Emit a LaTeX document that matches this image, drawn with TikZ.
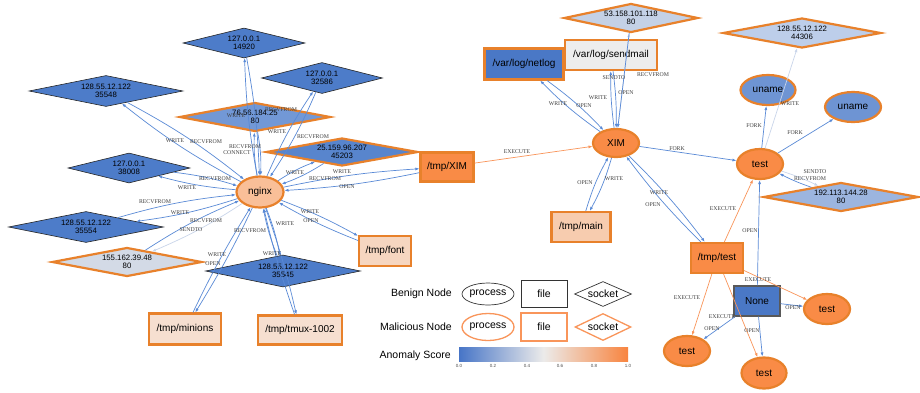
\documentclass[tikz,border=0pt]{standalone}
\usepackage{fontspec}
\setmainfont{Liberation Sans}
\newfontfamily\edgefont{Liberation Serif}
\usetikzlibrary{shapes.geometric,arrows.meta}
\definecolor{malo}{HTML}{E8812B}
\definecolor{eblue}{HTML}{5A8AD6}
\definecolor{elight}{HTML}{C9D5EA}
\definecolor{eorange}{HTML}{F9955A}
\definecolor{cdark}{HTML}{4D7CC9}
\definecolor{corange}{HTML}{F98B46}
\definecolor{cnginx}{HTML}{F9BF98}
\definecolor{cmid}{HTML}{7298D6}
\definecolor{cfortyfive}{HTML}{5885CD}
\definecolor{cpale}{HTML}{D3DAE6}
\definecolor{cpeach}{HTML}{F6DFD0}
\definecolor{cfont}{HTML}{F6D6C0}
\definecolor{cnet}{HTML}{4A78C6}
\definecolor{csend}{HTML}{EDEDED}
\definecolor{cfiftythree}{HTML}{C4D1E6}
\definecolor{cmain}{HTML}{F7CCAF}
\definecolor{cfortyfour}{HTML}{BDCEEA}
\definecolor{cuname}{HTML}{6E94D3}
\definecolor{cnineteen}{HTML}{9CB5DF}
\definecolor{cbzero}{HTML}{4775C7}
\definecolor{cbmid}{HTML}{ECEBEA}
\definecolor{cbone}{HTML}{F8843F}
\newcommand\nodefont{\fontsize{10}{11}\selectfont}
\newcommand\ipfont{\fontsize{7.8}{8.6}\selectfont}
\newcommand\legfont{\fontsize{10.5}{12}\selectfont}
\begin{document}
\begin{tikzpicture}[x=1pt,y=-1pt,
  mal/.style={draw=malo, line width=2.2pt},
  ben/.style={draw=black!85, line width=0.6pt},
  proc/.style={ellipse, inner sep=0pt, font=\nodefont},
  filebox/.style={rectangle, inner sep=0pt, font=\nodefont},
  sock/.style={diamond, inner sep=0pt},
  iptext/.style={font=\ipfont, align=center, inner sep=0pt},
  ed/.style={draw=eblue, line width=0.7pt, -{Latex[length=4pt,width=3pt]}},
  edl/.style={ed, draw=elight},
  edo/.style={ed, draw=eorange},
  lb/.style={font=\edgefont\fontsize{5.8}{6}\selectfont, text=black!75, inner sep=0pt},
  legtext/.style={font=\legfont, anchor=east, inner sep=0pt},
  lgmal/.style={draw=eorange, line width=1.3pt},
  lgben/.style={draw=black!80, line width=0.7pt},
  tick/.style={font=\fontsize{4.5}{5}\selectfont, text=black!70, inner sep=0pt}
]
\useasboundingbox[fill=white] (0,0) rectangle (920,392);

% ---------------- nodes: left cluster ----------------
\node[sock, ben, fill=cdark, minimum width=122, minimum height=30, label={[iptext]center:127.0.0.1\\14920}] (d14920) at (244,43) {};
\node[sock, ben, fill=cdark, minimum width=154, minimum height=31, label={[iptext]center:128.55.12.122\\35548}] (d35548) at (106,91) {};
\node[sock, ben, fill=cdark, minimum width=121, minimum height=31, label={[iptext]center:127.0.0.1\\32586}] (d32586) at (322,78) {};
\node[sock, mal, fill=cmid, minimum width=151, minimum height=29, label={[iptext]center:76.56.184.25\\80}] (d7656) at (255,117) {};
\node[sock, mal, fill=cfortyfive, minimum width=152, minimum height=28, label={[iptext]center:25.159.96.207\\45203}] (d45203) at (342,152) {};
\node[filebox, mal, fill=corange, minimum width=53, minimum height=29] (fXIM) at (447,167) {/tmp/XIM};
\node[sock, ben, fill=cdark, minimum width=122, minimum height=30, label={[iptext]center:127.0.0.1\\38008}] (d38008) at (129,168) {};
\node[sock, ben, fill=cdark, minimum width=155, minimum height=31, label={[iptext]center:128.55.12.122\\35554}] (d35554) at (86,227) {};
\node[sock, mal, fill=cpale, minimum width=150, minimum height=29, label={[iptext]center:155.162.39.48\\80}] (d155) at (127,262) {};
\node[filebox, mal, fill=cpeach, minimum width=72, minimum height=31] (fmin) at (185,329) {/tmp/minions};
\node[sock, ben, fill=cdark, minimum width=155, minimum height=32, label={[iptext]center:128.55.12.122\\35545}] (d35545) at (283,271) {};
\node[filebox, mal, fill=cpeach, minimum width=84, minimum height=29] (ftmux) at (300,330) {/tmp/tmux-1002};
\node[filebox, mal, fill=cfont, minimum width=52, minimum height=30] (ffont) at (385,251) {/tmp/font};
\node[proc, mal, fill=cnginx, minimum width=47, minimum height=31] (nginx) at (260,192) {nginx};

% ---------------- nodes: middle ----------------
\node[proc, mal, fill=corange, minimum width=46, minimum height=28] (XIM) at (616,143) {XIM};
\node[filebox, mal, fill=csend, minimum width=92, minimum height=30] (fsend) at (611,55) {/var/log/sendmail};
\node[filebox, mal, fill=cnet, minimum width=79, minimum height=31] (fnetlog) at (524,64) {/var/log/netlog};
\node[sock, mal, fill=cfiftythree, minimum width=134, minimum height=29, label={[iptext]center:53.158.101.118\\80}] (d53) at (631,18) {};
\node[filebox, mal, fill=cmain, minimum width=59, minimum height=30] (fmain) at (581,227) {/tmp/main};

% ---------------- nodes: right ----------------
\node[sock, mal, fill=cfortyfour, minimum width=158, minimum height=30, label={[iptext]center:128.55.12.122\\44306}] (d44306) at (802,33) {};
\node[proc, mal, fill=cuname, minimum width=55, minimum height=30] (uname1) at (768,90) {uname};
\node[proc, mal, fill=cuname, minimum width=56, minimum height=30] (uname2) at (853,107) {uname};
\node[proc, mal, fill=corange, minimum width=46, minimum height=30] (test) at (760,164) {test};
\node[sock, mal, fill=cnineteen, minimum width=155, minimum height=29, label={[iptext]center:192.113.144.28\\80}] (d192) at (841,197) {};
\node[filebox, mal, fill=corange, minimum width=52, minimum height=30] (ftest) at (717,258) {/tmp/test};
\node[filebox, draw=black!65, line width=1.2pt, fill=cnet, minimum width=46, minimum height=30] (none) at (757,301) {None};
\node[proc, mal, fill=corange, minimum width=46, minimum height=30] (testR) at (827,309) {test};
\node[proc, mal, fill=corange, minimum width=46, minimum height=30] (testLL) at (687,351) {test};
\node[proc, mal, fill=corange, minimum width=45, minimum height=31] (testB) at (764,373) {test};

% ---------------- edges: nginx ----------------
\draw[ed] (nginx) to[bend left=5] (d35548);
\draw[ed] (d35548) to[bend left=5] (nginx);
\draw[ed] (nginx) to[bend left=4] (d14920);
\draw[ed] (d14920) to[bend left=4] (nginx);
\draw[ed] (nginx) to[bend left=6] (d7656);
\draw[ed] (d7656) to[bend left=6] (nginx);
\draw[ed] (nginx) to[bend left=5] (d32586);
\draw[ed] (d32586) to[bend left=5] (nginx);
\draw[ed] (nginx) to[bend left=6] (d45203);
\draw[ed] (d45203) to[bend left=6] (nginx);
\draw[ed] (nginx) to[bend left=4] (fXIM);
\draw[ed] (fXIM) to[bend left=4] (nginx);
\draw[ed] (d38008) to[bend left=5] (nginx);
\draw[ed] (nginx) to[bend left=5] (d38008);
\draw[ed] (d35554) to[bend left=5] (nginx);
\draw[ed] (nginx) to[bend left=5] (d35554);
\draw[ed] (d155) to[bend left=5] (nginx);
\draw[edl] (nginx) to[bend left=5] (d155);
\draw[ed] (nginx) to[bend left=3] (fmin);
\draw[ed] (fmin) to[bend left=3] (nginx);
\draw[ed] (d35545) to[bend left=5] (nginx);
\draw[ed] (nginx) to[bend left=5] (d35545);
\draw[ed] (nginx) to[bend left=3] (ftmux);
\draw[ed] (ftmux) to[bend left=3] (nginx);
\draw[ed] (nginx) to[bend left=4] (ffont);
\draw[ed] (ffont) to[bend left=4] (nginx);

% ---------------- edges: XIM ----------------
\draw[edo] (fXIM) -- (XIM);
\draw[ed] (XIM) to[bend left=5] (fnetlog);
\draw[ed] (fnetlog) to[bend left=5] (XIM);
\draw[ed] (XIM) to[bend left=4] (fsend);
\draw[ed] (fsend) to[bend left=4] (XIM);
\draw[edl] (XIM) -- (d53);
\draw[ed] (d53) -- (XIM);
\draw[ed] (fmain) to[bend left=6] (XIM);
\draw[ed] (XIM) to[bend left=6] (fmain);
\draw[ed] (XIM) to[bend left=4] (ftest);
\draw[ed] (ftest) to[bend left=4] (XIM);
\draw[ed] (XIM) -- (test);

% ---------------- edges: test ----------------
\draw[ed] (test) -- (uname1);
\draw[ed] (test) -- (uname2);
\draw[edl] (test) -- (d44306);
\draw[edl] (test) to[bend left=4] (d192);
\draw[ed] (d192) to[bend left=4] (test);
\draw[edo] (ftest) -- (test);
\draw[ed] (none) -- (test);
\draw[edo] (ftest) -- (testR);
\draw[edo] (ftest) -- (testLL);
\draw[edo] (ftest) -- (testB);
\draw[ed] (none) -- (testR);
\draw[ed] (none) -- (testLL);
\draw[ed] (none) -- (testB);

% ---------------- edge labels ----------------
\node[lb] (l1) at (175,141) {WRITE};
\node[lb] (l2) at (206,142) {RECVFROM};
\node[lb] (l3) at (236,116) {WRITE};
\node[lb] (l4) at (281,110) {RECVFROM};
\node[lb] (l5) at (237,153) {CONNECT};
\node[lb] (l6) at (245,147) {RECVFROM};
\node[lb] (l7) at (277,132) {WRITE};
\node[lb] (l8) at (313,137) {RECVFROM};
\node[lb] (l9) at (295,173) {WRITE};
\node[lb] (l10) at (325,179) {RECVFROM};
\node[lb] (l11) at (342,172) {WRITE};
\node[lb] (l12) at (347,187) {OPEN};
\node[lb] (l13) at (215,179) {RECVFROM};
\node[lb] (l14) at (187,188) {WRITE};
\node[lb] (l15) at (155,202) {RECVFROM};
\node[lb] (l16) at (180,213) {WRITE};
\node[lb] (l17) at (206,221) {RECVFROM};
\node[lb] (l18) at (191,230) {SENDTO};
\node[lb] (l19) at (217,255) {WRITE};
\node[lb] (l20) at (213,264) {OPEN};
\node[lb] (l21) at (250,231) {RECVFROM};
\node[lb] (l22) at (272,254) {WRITE};
\node[lb] (l23) at (285,224) {WRITE};
\node[lb] (l24) at (310,212) {WRITE};
\node[lb] (l25) at (311,221) {OPEN};
\node[lb] (l26) at (517,152) {EXECUTE};
\node[lb] (l27) at (558,104) {WRITE};
\node[lb] (l28) at (584,106) {OPEN};
\node[lb] (l29) at (598,98) {WRITE};
\node[lb] (l30) at (626,93) {OPEN};
\node[lb] (l31) at (614,78) {SENDTO};
\node[lb] (l32) at (653,75) {RECVFROM};
\node[lb] (l33) at (585,183) {OPEN};
\node[lb] (l34) at (614,179) {WRITE};
\node[lb] (l35) at (659,193) {WRITE};
\node[lb] (l36) at (653,205) {OPEN};
\node[lb] (l37) at (677,149) {FORK};
\node[lb] (l38) at (754,126) {FORK};
\node[lb] (l39) at (795,133) {FORK};
\node[lb] (l40) at (790,104) {WRITE};
\node[lb] (l41) at (815,172) {SENDTO};
\node[lb] (l42) at (810,179) {RECVFROM};
\node[lb] (l43) at (723,209) {EXECUTE};
\node[lb] (l44) at (750,231) {OPEN};
\node[lb] (l45) at (758,280) {EXECUTE};
\node[lb] (l46) at (687,298) {EXECUTE};
\node[lb] (l47) at (722,317) {EXECUTE};
\node[lb] (l48) at (793,308) {OPEN};
\node[lb] (l49) at (712,329) {OPEN};
\node[lb] (l50) at (752,331) {OPEN};

% ---------------- legend ----------------
\node[legtext] (lbenign) at (452,294) {Benign Node};
\node[legtext] (lmal) at (452,327) {Malicious Node};
\node[legtext] (lanom) at (451,356) {Anomaly Score};
\node[ellipse, lgben, inner sep=0pt, font=\legfont, minimum width=43, minimum height=22] (lbproc) at (488,294) {process};
\node[rectangle, lgben, inner sep=0pt, font=\legfont, minimum width=46, minimum height=27] (lbfile) at (544,294) {file};
\node[diamond, lgben, inner sep=0pt, minimum width=57, minimum height=25, label={[font=\legfont, inner sep=0pt]center:socket}] (lbsock) at (603,294) {};
\node[ellipse, lgmal, inner sep=0pt, font=\legfont, minimum width=43, minimum height=27] (lmproc) at (488,327) {process};
\node[rectangle, lgmal, inner sep=0pt, font=\legfont, minimum width=46, minimum height=28] (lmfile) at (544,327) {file};
\node[diamond, lgmal, inner sep=0pt, minimum width=56, minimum height=27, label={[font=\legfont, inner sep=0pt]center:socket}] (lmsock) at (603,327) {};
\shade[left color=cbzero, right color=cbone, middle color=cbmid] (459,347) rectangle (628,361);
\foreach \v/\xx in {0.0/459, 0.2/493, 0.4/527, 0.6/560, 0.8/594, 1.0/628} {
  \node[tick] (tk\xx) at (\xx,366) {\v};
}
\end{tikzpicture}
\end{document}
